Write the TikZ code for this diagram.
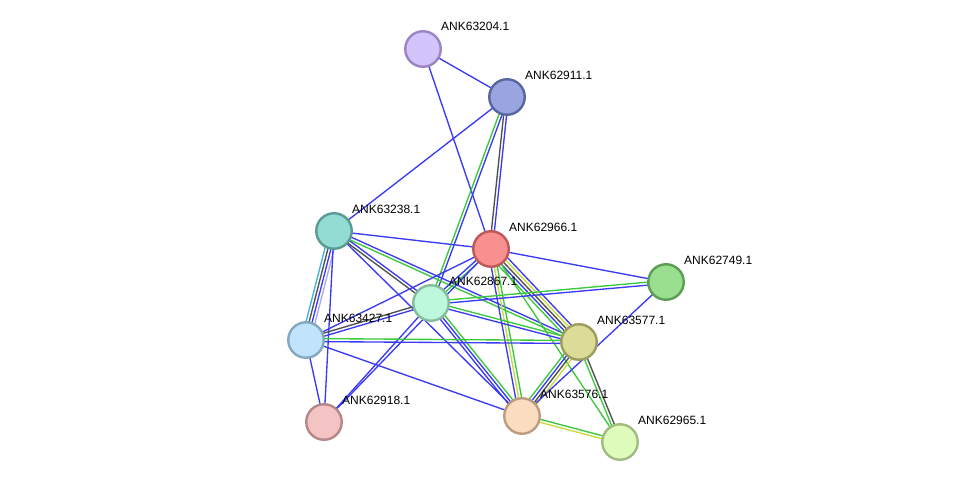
\documentclass[tikz,border=0pt]{standalone}
\usepackage{fontspec}
\setmainfont{Liberation Sans}
\usetikzlibrary{calc}
\pgfdeclarelayer{bg}
\pgfsetlayers{bg,main}
\definecolor{eb}{HTML}{3B3BF5}
\definecolor{eg}{HTML}{3CC83C}
\definecolor{ey}{HTML}{C8DC3C}
\definecolor{ek}{HTML}{505050}
\definecolor{ec}{HTML}{3CB4DC}
\definecolor{ep}{HTML}{A8A8FF}
\newcommand\sedge[3]{\foreach \ecol/\eoff in {#3}{\draw[conn,\ecol] let \p1=(#1.center), \p2=(#2.center), \n1={atan2(\y2-\y1,\x2-\x1)+90} in ($(\p1)+(\n1:\eoff pt)$) -- ($(\p2)+(\n1:\eoff pt)$);}}
\tikzset{
  prot/.style={circle, minimum size=35.5pt, inner sep=0pt, line width=2.4pt},
  lbl/.style={font=\fontsize{12}{14}\selectfont, anchor=base west, inner sep=0pt, text=black},
  conn/.style={line width=1.35pt}
}
\begin{document}
\begin{tikzpicture}[x=1pt,y=-1pt]
\useasboundingbox (0,0) rectangle (976,487);
% nodes
\node[prot, fill={rgb,255:red,212;green,196;blue,252}, draw={rgb,255:red,154;green,132;blue,196}] (p63204) at (423,49) {};
\node[prot, fill={rgb,255:red,153;green,164;blue,224}, draw={rgb,255:red,88;green,102;blue,160}] (p62911) at (507,97) {};
\node[prot, fill={rgb,255:red,146;green,220;blue,212}, draw={rgb,255:red,90;green,156;blue,148}] (p63238) at (334,231) {};
\node[prot, fill={rgb,255:red,249;green,144;blue,144}, draw={rgb,255:red,192;green,88;blue,88}] (p62966) at (491,249) {};
\node[prot, fill={rgb,255:red,154;green,222;blue,144}, draw={rgb,255:red,92;green,156;blue,84}] (p62749) at (666,282) {};
\node[prot, fill={rgb,255:red,190;green,248;blue,220}, draw={rgb,255:red,132;green,188;blue,156}] (p62867) at (431,303) {};
\node[prot, fill={rgb,255:red,192;green,228;blue,252}, draw={rgb,255:red,132;green,168;blue,188}] (p63427) at (306,340) {};
\node[prot, fill={rgb,255:red,220;green,220;blue,152}, draw={rgb,255:red,156;green,156;blue,92}] (p63577) at (579,342) {};
\node[prot, fill={rgb,255:red,244;green,196;blue,196}, draw={rgb,255:red,180;green,136;blue,136}] (p62918) at (324,422) {};
\node[prot, fill={rgb,255:red,252;green,220;blue,192}, draw={rgb,255:red,188;green,156;blue,128}] (p63576) at (522,416) {};
\node[prot, fill={rgb,255:red,224;green,252;blue,188}, draw={rgb,255:red,160;green,188;blue,128}] (p62965) at (620,442) {};
% edges
\begin{pgfonlayer}{bg}
\fill[white] (0,0) rectangle (976,487);
\sedge{p63204}{p62911}{eb/0}
\sedge{p63204}{p62966}{eb/0}
\sedge{p62911}{p63238}{eb/0}
\sedge{p62911}{p62966}{ek/-1.5,eb/1.5}
\sedge{p62911}{p62867}{eg/-1.5,eb/1.5}
\sedge{p63238}{p62966}{eb/0}
\sedge{p63238}{p62867}{ek/-1.5,eb/1.5}
\sedge{p63238}{p63577}{eg/-1.5,eb/1.5}
\sedge{p63238}{p63576}{eb/0}
\sedge{p63238}{p63427}{ec/-4.5,ek/-1.5,eb/1.5,ep/4.5}
\sedge{p63238}{p62918}{eb/0}
\sedge{p62966}{p62749}{eb/0}
\sedge{p62966}{p62867}{eb/-1.5,eg/1.5}
\sedge{p62966}{p63427}{eb/0}
\sedge{p62966}{p62918}{eb/0}
\sedge{p62966}{p63577}{eg/-6,eb/-3,ek/0,ey/3,eb/6}
\sedge{p62966}{p63576}{eb/-3,ey/0,eg/3}
\sedge{p62966}{p62965}{eg/0}
\sedge{p62867}{p62749}{eb/-1.5,eg/1.5}
\sedge{p62867}{p63427}{ek/-1.5,eb/1.5}
\sedge{p62867}{p63577}{eb/-1.5,eg/1.5}
\sedge{p62867}{p63576}{eb/-3,eb/0,eg/3}
\sedge{p62867}{p62918}{eb/0}
\sedge{p63427}{p63577}{eb/-1.5,eg/1.5}
\sedge{p63427}{p63576}{eb/0}
\sedge{p63427}{p62918}{eb/0}
\sedge{p63577}{p63576}{eg/-4.5,eb/-1.5,ek/1.5,ey/4.5}
\sedge{p63577}{p62965}{eg/-1.5,ek/1.5}
\sedge{p62749}{p63576}{eb/0}
\sedge{p63576}{p62965}{ey/-1.5,eg/1.5}
\end{pgfonlayer}
% labels
\node[lbl] (l63204) at ($(p63204)+(18,-18)$) {ANK63204.1};
\node[lbl] (l62911) at ($(p62911)+(18,-18)$) {ANK62911.1};
\node[lbl] (l63238) at ($(p63238)+(18,-18)$) {ANK63238.1};
\node[lbl] (l62966) at ($(p62966)+(18,-18)$) {ANK62966.1};
\node[lbl] (l62749) at ($(p62749)+(18,-18)$) {ANK62749.1};
\node[lbl] (l62867) at ($(p62867)+(18,-18)$) {ANK62867.1};
\node[lbl] (l63427) at ($(p63427)+(18,-18)$) {ANK63427.1};
\node[lbl] (l63577) at ($(p63577)+(18,-18)$) {ANK63577.1};
\node[lbl] (l62918) at ($(p62918)+(18,-18)$) {ANK62918.1};
\node[lbl] (l63576) at ($(p63576)+(18,-18)$) {ANK63576.1};
\node[lbl] (l62965) at ($(p62965)+(18,-18)$) {ANK62965.1};
\end{tikzpicture}
\end{document}
